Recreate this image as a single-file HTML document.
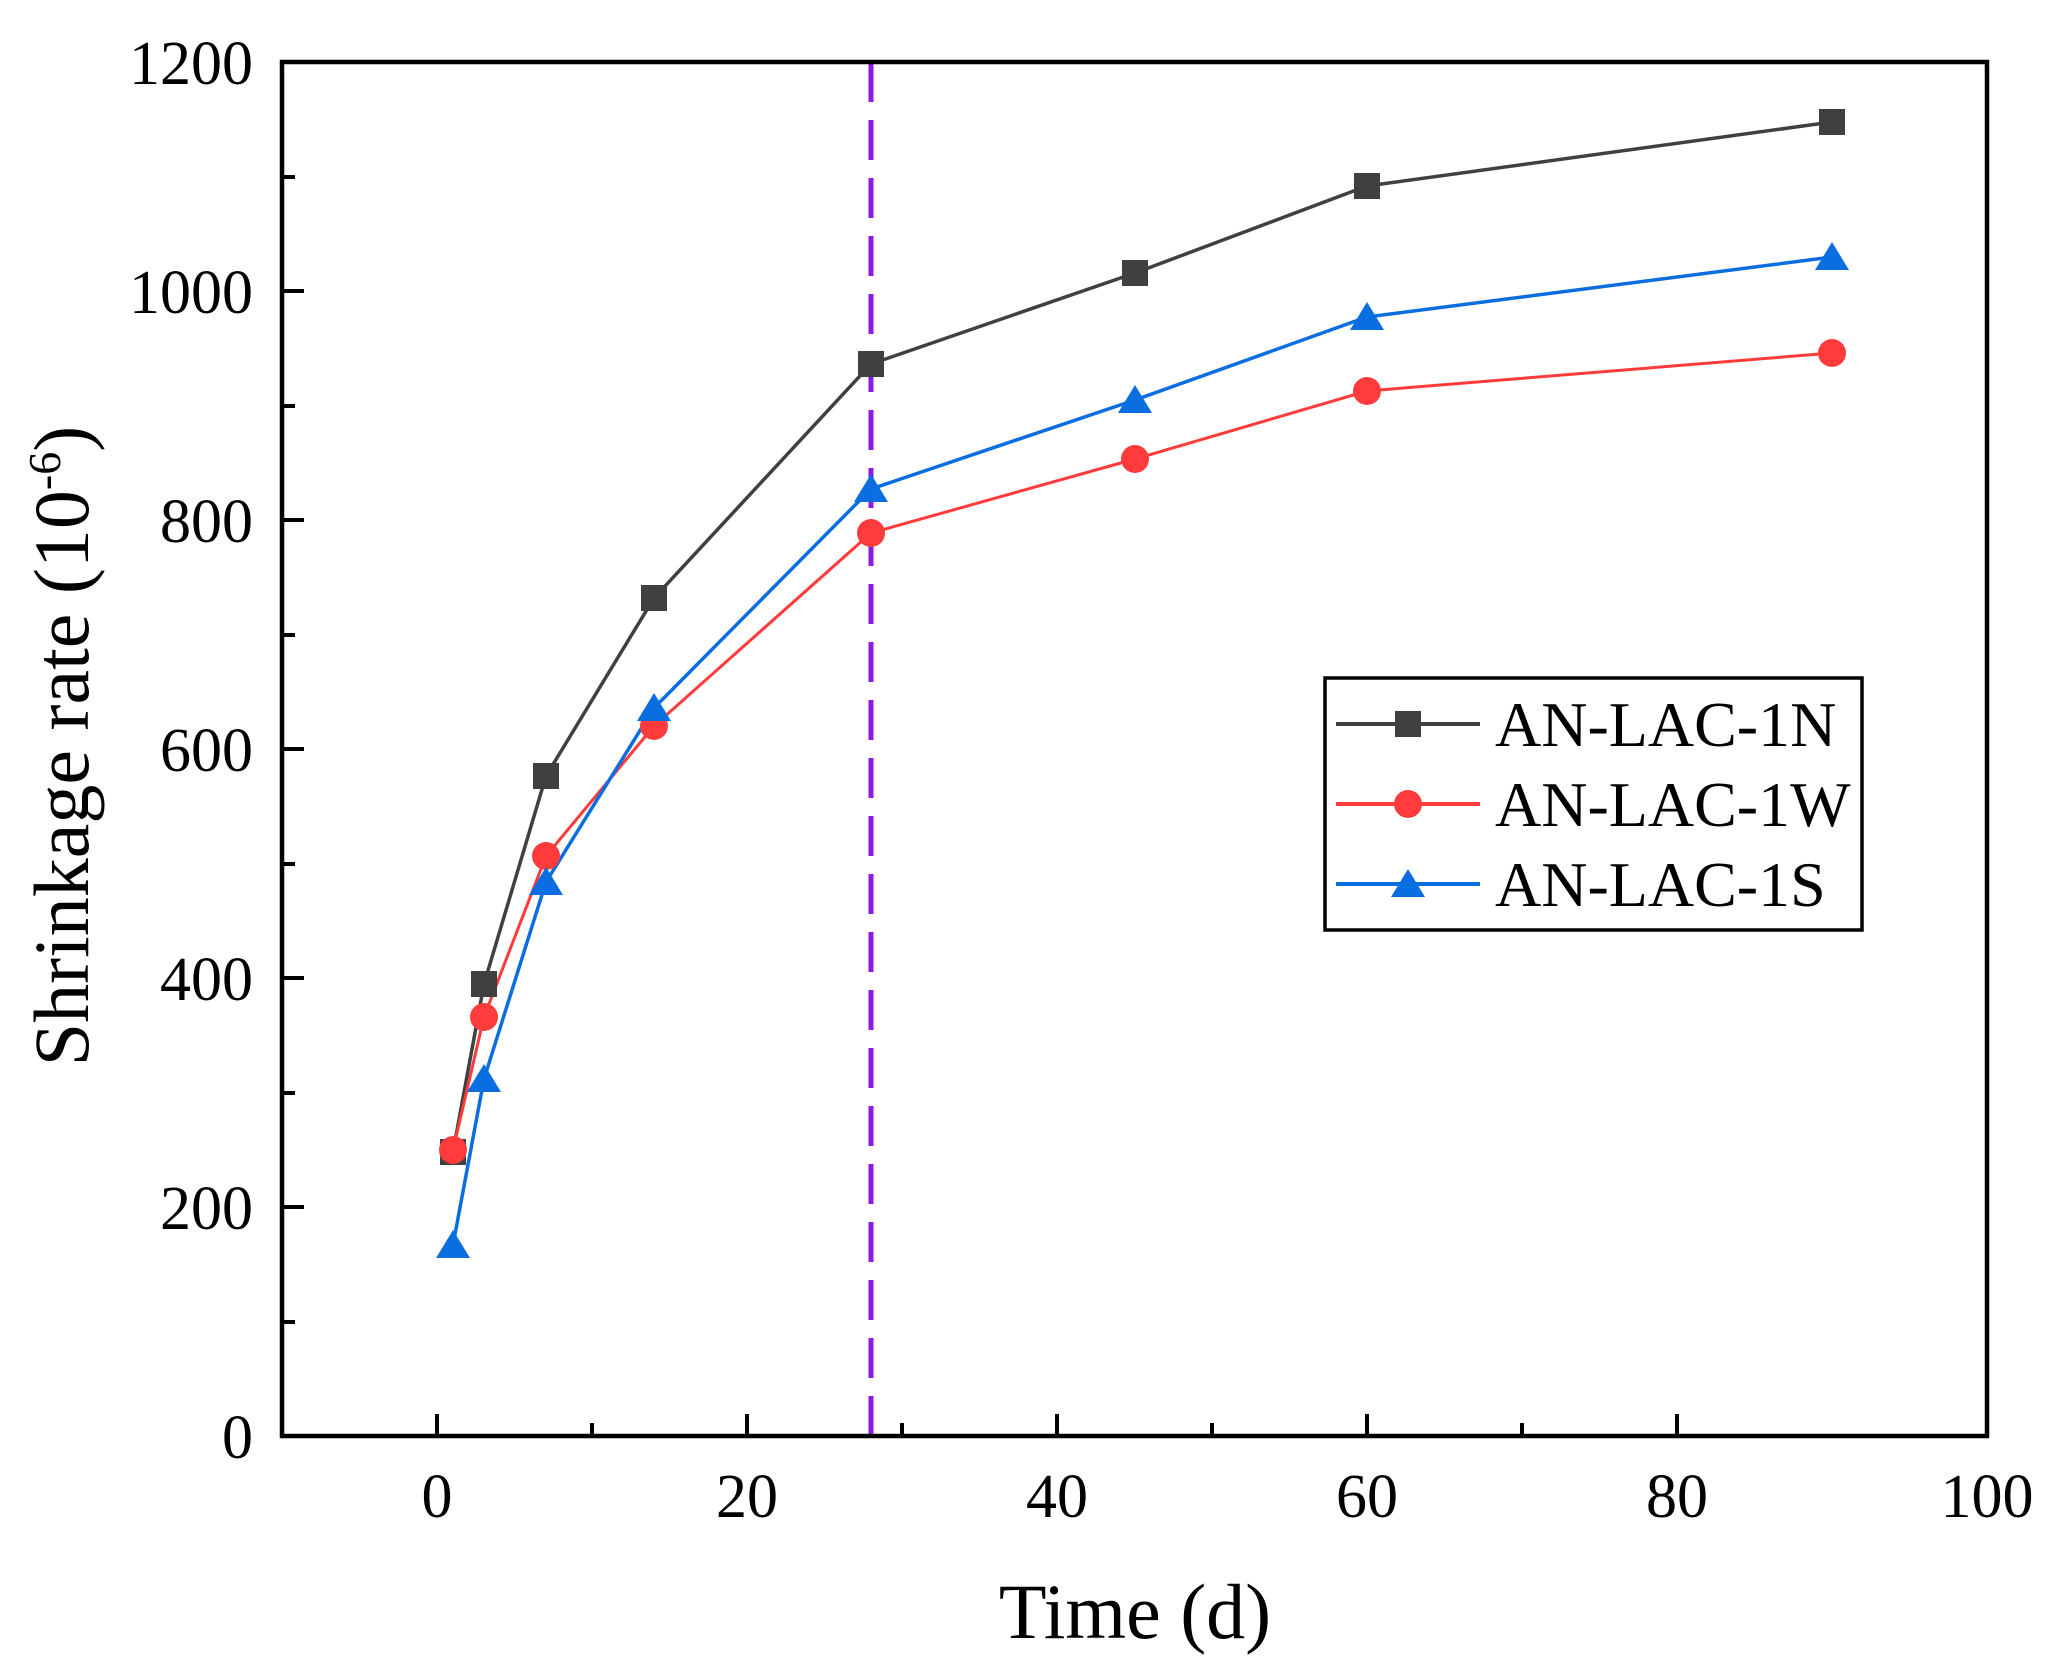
<!DOCTYPE html>
<html><head><style>body{margin:0;background:#fff}svg text{font-family:"Liberation Serif",serif;fill:#000}</style></head>
<body>
<svg width="2053" height="1668" viewBox="0 0 2053 1668" xmlns="http://www.w3.org/2000/svg">
<defs>
<g id="sq"><rect x="-13" y="-13" width="26" height="26" fill="#404040"/></g>
<g id="ci"><circle r="14" fill="#ff3b3b"/></g>
<g id="tr"><polygon points="0,-15 17,13 -17,13" fill="#0a6ee0"/></g>
</defs>
<line x1="871" y1="62" x2="871" y2="1436" stroke="#8a1be2" stroke-width="5" stroke-dasharray="40,18"/>
<rect x="282" y="62" width="1705" height="1374" fill="none" stroke="#000" stroke-width="4.5"/>
<g stroke="#000" stroke-width="4">
<line x1="437" y1="1436" x2="437" y2="1414"/><line x1="747" y1="1436" x2="747" y2="1414"/><line x1="1057" y1="1436" x2="1057" y2="1414"/><line x1="1367" y1="1436" x2="1367" y2="1414"/><line x1="1677" y1="1436" x2="1677" y2="1414"/>
<line x1="592" y1="1436" x2="592" y2="1423"/><line x1="902" y1="1436" x2="902" y2="1423"/><line x1="1212" y1="1436" x2="1212" y2="1423"/><line x1="1522" y1="1436" x2="1522" y2="1423"/>
<line x1="282" y1="1207" x2="304" y2="1207"/><line x1="282" y1="978" x2="304" y2="978"/><line x1="282" y1="749" x2="304" y2="749"/><line x1="282" y1="520" x2="304" y2="520"/><line x1="282" y1="291" x2="304" y2="291"/>
<line x1="282" y1="1322" x2="295" y2="1322"/><line x1="282" y1="1093" x2="295" y2="1093"/><line x1="282" y1="864" x2="295" y2="864"/><line x1="282" y1="635" x2="295" y2="635"/><line x1="282" y1="406" x2="295" y2="406"/><line x1="282" y1="177" x2="295" y2="177"/>
</g>
<g font-size="62" text-anchor="end">
<text x="253" y="1458">0</text><text x="253" y="1229">200</text><text x="253" y="1000">400</text><text x="253" y="771">600</text><text x="253" y="542">800</text><text x="253" y="313">1000</text><text x="253" y="84">1200</text>
</g>
<g font-size="62" text-anchor="middle">
<text x="437" y="1517">0</text><text x="747" y="1517">20</text><text x="1057" y="1517">40</text><text x="1367" y="1517">60</text><text x="1677" y="1517">80</text><text x="1987" y="1517">100</text>
</g>
<text x="1135" y="1638" font-size="78" text-anchor="middle">Time (d)</text>
<text transform="translate(88,746) rotate(-90)" font-size="78" text-anchor="middle">Shrinkage rate (10<tspan dy="-28" font-size="46">-6</tspan><tspan dy="28">)</tspan></text>
<polyline fill="none" stroke="#404040" stroke-width="3.5" points="453,1152 484,984 546,776 654,598 871,364 1135,273 1367,186 1832,122"/>
<polyline fill="none" stroke="#ff3b3b" stroke-width="3" points="453,1150 484,1017 546,856 654,726 871,533 1135,459 1367,391 1832,353"/>
<polyline fill="none" stroke="#0a6ee0" stroke-width="3.5" points="453,1245 484,1079 546,882 654,708 871,489 1135,400 1367,317 1832,257"/>
<g><use href="#sq" x="453" y="1152"/><use href="#sq" x="484" y="984"/><use href="#sq" x="546" y="776"/><use href="#sq" x="654" y="598"/><use href="#sq" x="871" y="364"/><use href="#sq" x="1135" y="273"/><use href="#sq" x="1367" y="186"/><use href="#sq" x="1832" y="122"/></g>
<g><use href="#ci" x="453" y="1150"/><use href="#ci" x="484" y="1017"/><use href="#ci" x="546" y="856"/><use href="#ci" x="654" y="726"/><use href="#ci" x="871" y="533"/><use href="#ci" x="1135" y="459"/><use href="#ci" x="1367" y="391"/><use href="#ci" x="1832" y="353"/></g>
<g><use href="#tr" x="453" y="1245"/><use href="#tr" x="484" y="1079"/><use href="#tr" x="546" y="882"/><use href="#tr" x="654" y="708"/><use href="#tr" x="871" y="489"/><use href="#tr" x="1135" y="400"/><use href="#tr" x="1367" y="317"/><use href="#tr" x="1832" y="257"/></g>
<rect x="1325" y="678" width="537" height="252" fill="#fff" stroke="#000" stroke-width="3.5"/>
<line x1="1336" y1="724" x2="1480" y2="724" stroke="#404040" stroke-width="4"/><use href="#sq" x="1408" y="724"/>
<line x1="1336" y1="804" x2="1480" y2="804" stroke="#ff3b3b" stroke-width="4"/><use href="#ci" x="1408" y="804"/>
<line x1="1336" y1="884" x2="1480" y2="884" stroke="#0a6ee0" stroke-width="4"/><use href="#tr" x="1408" y="884"/>
<g font-size="64"><text x="1495" y="746">AN-LAC-1N</text><text x="1495" y="826">AN-LAC-1W</text><text x="1495" y="906">AN-LAC-1S</text></g>
</svg>
</body></html>
